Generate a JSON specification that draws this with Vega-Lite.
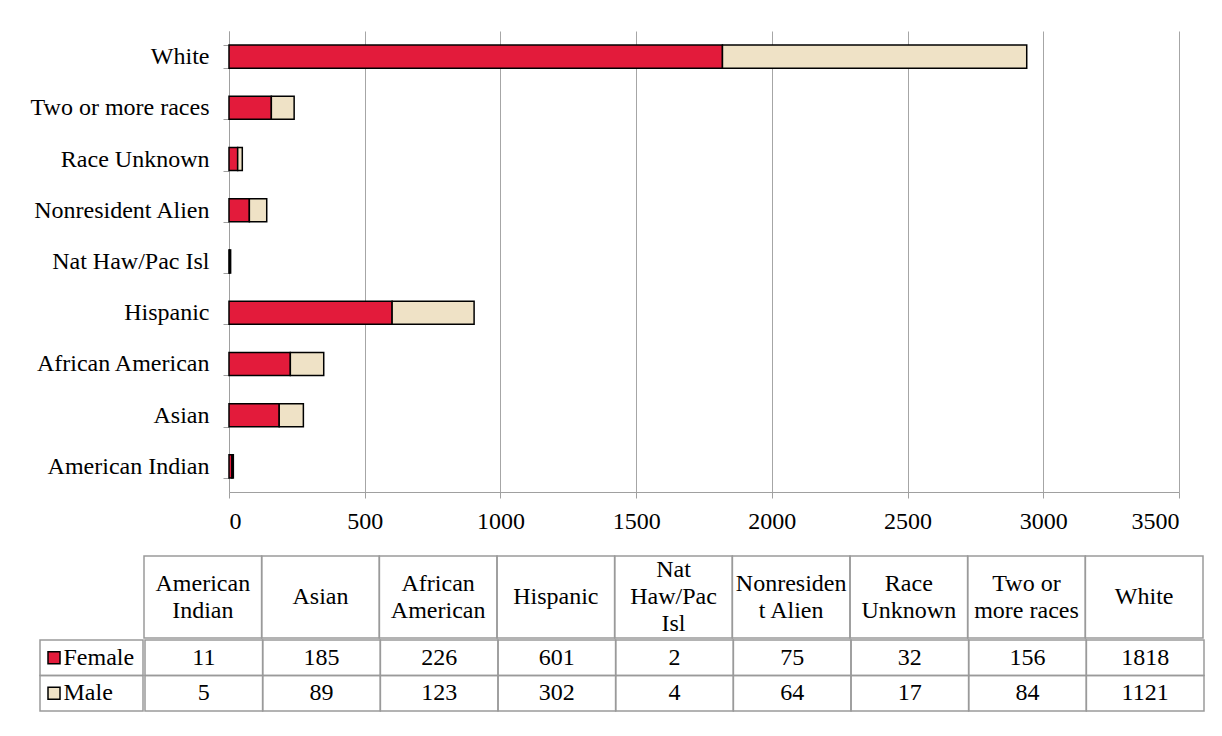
{
  "$schema": "https://vega.github.io/schema/vega-lite/v6.json",
  "background": "white",
  "padding": {"left": 30, "top": 19, "right": 5, "bottom": 5},
  "config": {
    "font": "'Liberation Serif', 'Times New Roman', 'DejaVu Serif', serif",
    "view": {"stroke": null},
    "axis": {"labelFont": "'Liberation Serif', 'Times New Roman', 'DejaVu Serif', serif", "labelFontSize": 24, "labelColor": "black", "domainColor": "#a0a0a0", "tickColor": "#a0a0a0", "gridColor": "#a6a6a6", "domainWidth": 1, "tickWidth": 1, "gridWidth": 1},
    "text": {"font": "'Liberation Serif', 'Times New Roman', 'DejaVu Serif', serif", "fontSize": 24, "color": "black"}
  },
  "datasets": {
    "counts": [
      {"race": "American Indian", "header": "American\nIndian", "gender": "Female", "count": 11},
      {"race": "American Indian", "header": "American\nIndian", "gender": "Male", "count": 5},
      {"race": "Asian", "header": "Asian", "gender": "Female", "count": 185},
      {"race": "Asian", "header": "Asian", "gender": "Male", "count": 89},
      {"race": "African American", "header": "African\nAmerican", "gender": "Female", "count": 226},
      {"race": "African American", "header": "African\nAmerican", "gender": "Male", "count": 123},
      {"race": "Hispanic", "header": "Hispanic", "gender": "Female", "count": 601},
      {"race": "Hispanic", "header": "Hispanic", "gender": "Male", "count": 302},
      {"race": "Nat Haw/Pac Isl", "header": "Nat\nHaw/Pac\nIsl", "gender": "Female", "count": 2},
      {"race": "Nat Haw/Pac Isl", "header": "Nat\nHaw/Pac\nIsl", "gender": "Male", "count": 4},
      {"race": "Nonresident Alien", "header": "Nonresiden\nt Alien", "gender": "Female", "count": 75},
      {"race": "Nonresident Alien", "header": "Nonresiden\nt Alien", "gender": "Male", "count": 64},
      {"race": "Race Unknown", "header": "Race\nUnknown", "gender": "Female", "count": 32},
      {"race": "Race Unknown", "header": "Race\nUnknown", "gender": "Male", "count": 17},
      {"race": "Two or more races", "header": "Two or\nmore races", "gender": "Female", "count": 156},
      {"race": "Two or more races", "header": "Two or\nmore races", "gender": "Male", "count": 84},
      {"race": "White", "header": "White", "gender": "Female", "count": 1818},
      {"race": "White", "header": "White", "gender": "Male", "count": 1121}
    ]
  },
  "spacing": 22,
  "vconcat": [
    {
      "bounds": "flush",
      "spacing": 0,
      "hconcat": [
        {
          "width": 189,
          "height": 461,
          "data": {"values": [{}]},
          "mark": {"type": "text"},
          "encoding": {"text": {"value": ""}}
        },
        {
          "width": 950,
          "height": 461,
          "data": {"name": "counts"},
          "mark": {"type": "bar", "stroke": "black", "strokeWidth": 1.5},
          "encoding": {
            "y": {
              "field": "race",
              "type": "nominal",
              "sort": ["White", "Two or more races", "Race Unknown", "Nonresident Alien", "Nat Haw/Pac Isl", "Hispanic", "African American", "Asian", "American Indian"],
              "scale": {"paddingInner": 0.55, "paddingOuter": 0.275},
              "axis": {"title": null, "tickBand": "extent", "ticks": true, "tickSize": 6, "labelPadding": 14, "grid": false, "labelLimit": 300}
            },
            "x": {
              "field": "count",
              "type": "quantitative",
              "stack": "zero",
              "scale": {"domain": [0, 3500], "nice": false},
              "axis": {"title": null, "values": [0, 500, 1000, 1500, 2000, 2500, 3000, 3500], "format": "d", "grid": true, "tickSize": 6, "labelPadding": 11}
            },
            "color": {
              "field": "gender",
              "type": "nominal",
              "scale": {"domain": ["Female", "Male"], "range": ["#E31B3B", "#EFE2C6"]},
              "legend": null
            }
          }
        }
      ]
    },
    {
      "spacing": 0,
      "vconcat": [
        {
          "spacing": 0,
          "hconcat": [
            {
              "width": 103,
              "height": 82,
              "data": {"values": [{}]},
              "mark": {"type": "text"},
              "encoding": {"text": {"value": ""}}
            },
            {
              "width": 1059,
              "height": 82,
              "data": {"name": "counts"},
              "transform": [
                {"filter": "datum.gender == 'Female'"},
                {"calculate": "length(split(datum.header, '\\n'))", "as": "lines"}
              ],
              "encoding": {
                "x": {
                  "field": "race",
                  "type": "nominal",
                  "sort": ["American Indian", "Asian", "African American", "Hispanic", "Nat Haw/Pac Isl", "Nonresident Alien", "Race Unknown", "Two or more races", "White"],
                  "scale": {"paddingInner": 0, "paddingOuter": 0},
                  "axis": null
                }
              },
              "layer": [
                {"mark": {"type": "rect", "fill": "transparent", "stroke": "#9a9a9a", "strokeWidth": 1.5}},
                {
                  "transform": [{"filter": "datum.lines == 1"}],
                  "mark": {"type": "text", "lineBreak": "\n", "lineHeight": 27, "baseline": "middle", "align": "center"},
                  "encoding": {"text": {"field": "header"}}
                },
                {
                  "transform": [{"filter": "datum.lines == 2"}],
                  "mark": {"type": "text", "lineBreak": "\n", "lineHeight": 27, "baseline": "middle", "align": "center", "dy": -13.5},
                  "encoding": {"text": {"field": "header"}}
                },
                {
                  "transform": [{"filter": "datum.lines == 3"}],
                  "mark": {"type": "text", "lineBreak": "\n", "lineHeight": 27, "baseline": "middle", "align": "center", "dy": -27},
                  "encoding": {"text": {"field": "header"}}
                }
              ]
            }
          ]
        },
        {
          "spacing": 0,
          "hconcat": [
            {
              "width": 103,
              "height": 71,
              "data": {"name": "counts"},
              "transform": [{"filter": "datum.race == 'White'"}],
              "encoding": {
                "y": {"field": "gender", "type": "nominal", "scale": {"domain": ["Female", "Male"], "paddingInner": 0, "paddingOuter": 0}, "axis": null}
              },
              "layer": [
                {"mark": {"type": "rect", "fill": "transparent", "stroke": "#9a9a9a", "strokeWidth": 1.5}},
                {
                  "mark": {"type": "point", "shape": "square", "size": 144, "filled": true, "stroke": "black", "strokeWidth": 1.5, "opacity": 1, "xOffset": -37.5},
                  "encoding": {"color": {"field": "gender", "type": "nominal", "scale": {"domain": ["Female", "Male"], "range": ["#E31B3B", "#EFE2C6"]}, "legend": null}}
                },
                {"mark": {"type": "text", "align": "left", "baseline": "middle", "dx": -28}, "encoding": {"text": {"field": "gender"}}}
              ]
            },
            {
              "width": 1059,
              "height": 71,
              "data": {"name": "counts"},
              "encoding": {
                "x": {
                  "field": "race",
                  "type": "nominal",
                  "sort": ["American Indian", "Asian", "African American", "Hispanic", "Nat Haw/Pac Isl", "Nonresident Alien", "Race Unknown", "Two or more races", "White"],
                  "scale": {"paddingInner": 0, "paddingOuter": 0},
                  "axis": null
                },
                "y": {"field": "gender", "type": "nominal", "scale": {"domain": ["Female", "Male"], "paddingInner": 0, "paddingOuter": 0}, "axis": null}
              },
              "layer": [
                {"mark": {"type": "rect", "fill": "transparent", "stroke": "#9a9a9a", "strokeWidth": 1.5}},
                {"mark": {"type": "text", "baseline": "middle", "align": "center"}, "encoding": {"text": {"field": "count", "type": "quantitative"}}}
              ]
            }
          ]
        }
      ]
    }
  ]
}
